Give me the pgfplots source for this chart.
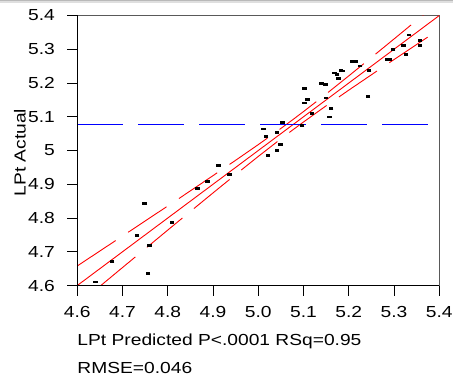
\documentclass[border=0pt]{standalone}
\usepackage{fontspec}
\setmainfont{Liberation Sans}[FakeStretch=1.2]
\usepackage{pgfplots}
\pgfplotsset{compat=1.18}
\usepackage{pgfplotstable}

\pgfplotstableread{
x y
4.640 4.610
4.677 4.672
4.756 4.636
4.760 4.719
4.732 4.749
4.749 4.842
4.809 4.786
4.865 4.887
4.888 4.909
4.912 4.956
4.937 4.929
5.012 5.064
5.017 5.042
5.041 5.054
5.049 5.018
5.041 5.001
5.021 4.986
5.053 5.084
5.097 5.074
5.102 5.183
5.109 5.151
5.102 5.141
5.119 5.109
5.140 5.198
5.148 5.196
5.150 5.156
5.161 5.125
5.158 5.099
5.168 5.230
5.174 5.225
5.183 5.238
5.186 5.236
5.177 5.213
5.207 5.263
5.215 5.263
5.225 5.250
5.245 5.238
5.242 5.161
5.284 5.270
5.291 5.270
5.298 5.299
5.321 5.311
5.333 5.342
5.326 5.285
5.357 5.326
5.357 5.311
}\ptsdata

\pgfplotstableread{
x y
4.600 4.6580
4.650 4.7023
4.700 4.7467
4.750 4.7912
4.800 4.8357
4.850 4.8805
4.900 4.9256
4.950 4.9711
5.000 5.0175
5.050 5.0654
5.075 5.0901
5.100 5.1154
5.150 5.1675
5.200 5.2211
5.250 5.2756
5.300 5.3305
5.350 5.3857
5.400 5.4412
}\uppercurve

\pgfplotstableread{
x y
4.650 4.5977
4.700 4.6533
4.750 4.7088
4.800 4.7643
4.850 4.8195
4.900 4.8744
4.950 4.9289
5.000 4.9825
5.050 5.0346
5.075 5.0599
5.100 5.0846
5.150 5.1325
5.200 5.1789
5.250 5.2244
5.300 5.2695
5.350 5.3143
5.400 5.3588
}\lowercurve

\begin{document}
\fontsize{16bp}{19bp}\selectfont
\begin{tikzpicture}
\useasboundingbox (-77.3bp,-95.5bp) rectangle (375.7bp,285.5bp);
\fill[gray!55] (-77.3bp,284bp) rectangle (375.7bp,285.5bp);
\fill[gray!25] (-77.3bp,282.2bp) rectangle (375.7bp,284bp);
\begin{axis}[
  at={(0,0)}, anchor=south west,
  scale only axis, width=362bp, height=270bp,
  xmin=4.6, xmax=5.4, ymin=4.6, ymax=5.4,
  xtick={4.6,4.7,4.8,4.9,5.0,5.1,5.2,5.3,5.4},
  xticklabels={4.6,4.7,4.8,4.9,5.0,5.1,5.2,5.3,5.4},
  ytick={4.6,4.7,4.8,4.9,5.0,5.1,5.2,5.3,5.4},
  yticklabels={4.6,4.7,4.8,4.9,5,5.1,5.2,5.3,5.4},
  tick align=outside, xtick pos=left, ytick pos=left,
  major tick length=10bp,
  tick style={black, line width=0.8bp},
  axis line style={black!65, line width=0.8bp},
  /pgf/number format/assume math mode=true,
  ticklabel style={font=\fontsize{16bp}{19bp}\selectfont},
  xticklabel style={yshift=-5bp},
  yticklabel style={xshift=-7bp},
]
\addplot[red, line width=0.9bp, no markers] coordinates {(4.6,4.6) (5.4,5.4)};
\addplot[red, line width=0.9bp, no markers, dash pattern=on 46bp off 15bp] table[x=x,y=y] {\uppercurve};
\addplot[red, line width=0.9bp, no markers, dash pattern=on 46bp off 15bp] table[x=x,y=y] {\lowercurve};
\addplot[blue, line width=0.9bp, no markers, dash pattern=on 46bp off 15bp] coordinates {(4.6,5.076) (5.4,5.076)};
\addplot[only marks, mark=-, mark size=2.3bp, mark options={black, line width=2.7bp}] table[x=x,y=y] {\ptsdata};
\end{axis}
\draw[black, line width=0.8bp] (0,270bp) -- (0,0) -- (362bp,0);
\node[anchor=base west, inner sep=0pt] at (0,-60.2bp) {LPt Predicted P<.0001 RSq=0.95};
\node[anchor=base west, inner sep=0pt] at (0,-87.8bp) {RMSE=0.046};
\node[rotate=90, anchor=base, inner sep=0pt] at (-51.6bp,133bp) {LPt Actual};
\end{tikzpicture}
\end{document}
